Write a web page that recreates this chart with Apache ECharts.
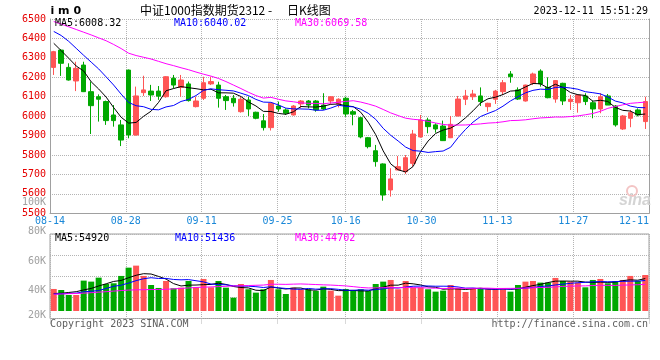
<!DOCTYPE html>
<html><head><meta charset="utf-8">
<script src="https://cdn.jsdelivr.net/npm/echarts@6/dist/echarts.min.js"></script>
<style>html,body{margin:0;padding:0;background:#fff}#c{width:660px;height:360px}</style>
</head><body><div id="c"></div>
<script>
const dates = [
'08-14','08-15','08-16','08-17','08-18','08-21','08-22','08-23','08-24','08-25',
'08-28','08-29','08-30','08-31','09-01','09-04','09-05','09-06','09-07','09-08',
'09-11','09-12','09-13','09-14','09-15','09-18','09-19','09-20','09-21','09-22',
'09-25','09-26','09-27','09-28','10-09','10-10','10-11','10-12','10-13','10-16',
'10-17','10-18','10-19','10-20','10-23','10-24','10-25','10-26','10-27','10-30',
'10-31','11-01','11-02','11-03','11-06','11-07','11-08','11-09','11-10','11-13',
'11-14','11-15','11-16','11-17','11-20','11-21','11-22','11-23','11-24','11-27',
'11-28','11-29','11-30','12-01','12-04','12-05','12-06','12-07','12-08','12-11'];
const opens = [6251,6340,6251,6181,6263,6126,6100,6075,6006,5955, 6237,5903,6121,6129,6129,6100,6195,6148,6166,6049, 6092,6166,6160,6100,6092,6023,6083,6020,5976,5941, 6052,6032,6006,6063,6078,6078,6057,6078,6063,6092, 6023,5992,5889,5822,5754,5620,5723,5714,5757,5893, 5980,5955,5949,5889,6001,6087,6100,6104,6049,6087, 6126,6217,6135,6078,6169,6232,6148,6088,6169,6075, 6069,6104,6069,6037,6104,6052,5934,5989,6032,5972];
const closes = [6332,6272,6186,6246,6126,6054,6087,5977,5977,5877, 5903,6104,6135,6109,6103,6203,6160,6186,6080,6078, 6172,6178,6092,6080,6069,6087,6037,5989,5941,6066, 6037,6015,6052,6078,6057,6032,6037,6100,6087,6011, 6010,5893,5843,5766,5594,5677,5740,5786,5908,5980, 5946,5934,5874,5958,6088,6104,6114,6075,6066,6129, 6172,6203,6088,6160,6217,6166,6095,6183,6078,6087, 6109,6075,6037,6100,6057,5955,6001,6018,6006,6075];
const lows = [6212,6207,6183,6129,6124,5908,5972,5955,5946,5846, 5886,5900,6104,6078,6084,6095,6143,6100,6075,6045, 6083,6160,6044,6032,6049,6018,6001,5984,5926,5926, 6023,6006,6003,6040,6040,6023,6032,6063,6045,5997, 5953,5886,5834,5740,5565,5586,5722,5702,5740,5889, 5912,5915,5872,5887,5999,6057,6083,6052,6023,6063, 6109,6172,6083,6075,6160,6152,6092,6069,6057,6032, 6018,6057,5989,6015,6057,5946,5929,5943,5999,5934];
const highs = [6336,6345,6272,6280,6280,6178,6112,6080,6057,5980, 6240,6152,6208,6161,6155,6206,6212,6212,6178,6100, 6203,6203,6177,6109,6109,6100,6100,6023,6011,6069, 6075,6040,6057,6083,6083,6083,6118,6102,6092,6100, 6032,5997,5893,5852,5757,5732,5795,5800,5929,6006, 5992,5963,5977,6001,6104,6135,6135,6148,6069,6135, 6186,6232,6148,6162,6224,6241,6200,6186,6172,6109, 6110,6118,6080,6118,6114,6057,6006,6032,6040,6100];
const volumes = [37200,35500,27000,27000,51300,49600,56300,45600,46800,59200, 73200,76600,59200,43900,38900,50700,38400,39400,50700,40000, 54100,40000,50700,39400,22500,45600,36700,31000,36700,52400, 36700,28700,39400,36700,36700,33800,41100,34400,25900,37200, 35500,36700,33800,45600,49600,52400,36700,50700,40000,40000, 36700,32700,34400,43900,38400,32100,38900,38900,36700,36700, 37700,32700,43900,49600,50700,47900,47900,55800,50700,49600, 47900,40000,52400,54100,46800,50700,52400,59200,50700,60800];
// moving-average values before enough visible days exist
const ma5Lead = [6375,6337,6298,6258];
const ma10Lead = [6436,6415,6385,6349,6313,6278,6243,6202,6160];
const ma30Lead = [6487,6474,6460,6446,6432,6418,6403,6388,6369,6348,6324,6312,6303,6294,6282,6270,6260,6249,6239,6227,6216,6206,6194,6178,6160,6142,6123,6106,6093];
const vma5Lead = [29600,29900,31300,32600];
const vma10Lead = [28600,29100,29600,30100,32400,33300,34600,38000,41700];
const vma30Lead = [28400,28700,29200,29600,30100,30900,31800,32600,33600,34500,35300,35700,36000,36200,36300,36700,37300,38200,38900,39700,40200,40700,41200,41700,42300,42600,43000,43400,43800];
const tickLabels = ['08-14','08-28','09-11','09-25','10-16','10-30','11-13','11-27','12-11'];
const volLabelVals = [20000,40000,60000,80000,100000];
const volLabelTexts = ['20K','40K','60K','80K','100K'];
const legendMain = ['MA5:6008.32','MA10:6040.02','MA30:6069.58'];
const legendVol = ['MA5:54920','MA10:51436','MA30:44702'];

const UP = '#ff5555', DOWN = '#00a800';
const MONO = 'DejaVu Sans Mono';
const GRIDC = '#b4b4b4', FRAME = '#a0a0a0';
const tickDays = tickLabels.map(l => dates.indexOf(l));

function movingAvg(vals, n, lead) {
  return vals.map((v, i) => {
    if (i < n - 1) return lead[i];
    let s = 0; for (let k = i - n + 1; k <= i; k++) s += vals[k];
    return +(s / n).toFixed(2);
  });
}
const candleData = opens.map((o, i) => [o, closes[i], lows[i], highs[i]]);
const volData = volumes.map((v, i) => ({value: v, itemStyle: {color: closes[i] >= opens[i] ? UP : DOWN}}));
const dotted = {type: 'dotted', color: GRIDC, width: 1};

function lineS(data, color, xi, yi) {
  return {type: 'line', data, xAxisIndex: xi, yAxisIndex: yi, symbol: 'none', silent: true,
    lineStyle: {color, width: 1}, z: 3};
}
function txt(x, y, text, fill, font, align) {
  return {type: 'text', x, y, z: 10, silent: true,
    style: {text, fill, font, align: align || 'left', verticalAlign: 'middle'}};
}

const chart = echarts.init(document.getElementById('c'), null, {renderer: 'canvas'});
chart.setOption({
  animation: false,
  backgroundColor: '#fff',
  grid: [
    {left: 50, top: 19, width: 599, height: 194.3},
    {left: 50, top: 234, width: 599, height: 77},
    {left: 50, top: 234, width: 599, height: 84.5, show: true, borderColor: FRAME, borderWidth: 1},
    {left: 50, top: 202, width: 599, height: 118}
  ],
  xAxis: [
    {type: 'category', gridIndex: 0, data: dates, boundaryGap: true, show: false, position: 'bottom'},
    {type: 'value', gridIndex: 0, min: 0, max: dates.length - 1, position: 'bottom',
      axisLine: {show: true, onZero: false, lineStyle: {color: FRAME}},
      axisTick: {show: false, customValues: tickDays},
      splitLine: {show: true, lineStyle: dotted},
      axisLabel: {customValues: tickDays, formatter: v => tickLabels[tickDays.indexOf(v)],
        color: '#1a88d8', fontFamily: MONO, fontSize: 10, margin: 3,
        alignMinLabel: 'center', alignMaxLabel: 'right'}},
    {type: 'category', gridIndex: 1, data: dates, boundaryGap: true, show: false},
    {type: 'value', gridIndex: 2, min: 0, max: dates.length - 1, position: 'bottom',
      axisLine: {show: false, onZero: false},
      axisTick: {show: true, customValues: tickDays, length: 5, lineStyle: dotted},
      splitLine: {show: true, lineStyle: dotted},
      axisLabel: {show: false}},
    {type: 'value', gridIndex: 3, show: false, min: 0, max: 1}
  ],
  yAxis: [
    {type: 'value', gridIndex: 0, min: 5500, max: 6500, interval: 100,
      axisLine: {show: true, onZero: false, lineStyle: {color: FRAME}},
      axisTick: {show: false}, splitLine: {show: true, lineStyle: dotted},
      axisLabel: {formatter: v => String(v), color: '#e60000', fontFamily: MONO, fontSize: 10, margin: 4, padding: [0, 0, 4, 0]}},
    {type: 'value', gridIndex: 0, position: 'right', min: 0, max: 1,
      axisLine: {show: true, onZero: false, lineStyle: {color: FRAME}},
      axisTick: {show: false}, axisLabel: {show: false}, splitLine: {show: false}},
    {type: 'value', gridIndex: 1, min: 0, max: 130000, show: false, splitLine: {show: false}},
    {type: 'value', gridIndex: 2, min: 0, max: 4, interval: 1,
      axisLine: {show: false}, axisTick: {show: false}, axisLabel: {show: false},
      splitLine: {show: true, lineStyle: dotted}},
    {type: 'value', gridIndex: 3, min: 20000, max: 100000,
      axisLine: {show: false}, axisTick: {show: false}, splitLine: {show: false},
      axisLabel: {customValues: volLabelVals, formatter: v => volLabelTexts[volLabelVals.indexOf(v)],
        color: '#a0a0a0', fontFamily: MONO, fontSize: 10, margin: 4, verticalAlignMinLabel: 'bottom'}}
  ],
  series: [
    {type: 'candlestick', xAxisIndex: 0, yAxisIndex: 0, data: candleData, barWidth: 5, silent: true,
      itemStyle: {color: UP, color0: DOWN, borderColor: UP, borderColor0: DOWN, borderWidth: 1}, z: 2},
    lineS(movingAvg(closes, 5, ma5Lead), '#000000', 0, 0),
    lineS(movingAvg(closes, 10, ma10Lead), '#0000ff', 0, 0),
    lineS(movingAvg(closes, 30, ma30Lead), '#ff00ff', 0, 0),
    {type: 'bar', xAxisIndex: 2, yAxisIndex: 2, data: volData, barWidth: 6, silent: true, z: 2},
    lineS(movingAvg(volumes, 5, vma5Lead), '#000000', 2, 2),
    lineS(movingAvg(volumes, 10, vma10Lead), '#0000ff', 2, 2),
    lineS(movingAvg(volumes, 30, vma30Lead), '#ff00ff', 2, 2)
  ],
  graphic: [
    txt(50.5, 11.5, 'i m 0', '#000', 'bold 11px "DejaVu Sans"'),
    txt(140, 10, '中证1000指数期货2312 -', '#000', '12px "Noto Sans CJK SC"'),
    txt(287, 10, '日K线图', '#000', '12px "Noto Sans CJK SC"'),
    txt(648, 11.5, '2023-12-11 15:51:29', '#000', '10px "DejaVu Sans Mono"', 'right'),
    txt(55, 23.5, legendMain[0], '#000', '10px "DejaVu Sans Mono"'),
    txt(174, 23.5, legendMain[1], '#0000ff', '10px "DejaVu Sans Mono"'),
    txt(295, 23.5, legendMain[2], '#ff00ff', '10px "DejaVu Sans Mono"'),
    txt(55, 238.5, legendVol[0], '#000', '10px "DejaVu Sans Mono"'),
    txt(175, 238.5, legendVol[1], '#0000ff', '10px "DejaVu Sans Mono"'),
    txt(295, 238.5, legendVol[2], '#ff00ff', '10px "DejaVu Sans Mono"'),
    txt(50, 324, 'Copyright 2023 SINA.COM', '#606060', '10px "DejaVu Sans Mono"'),
    txt(648, 324, 'http://finance.sina.com.cn', '#606060', '10px "DejaVu Sans Mono"', 'right'),
    {type: 'circle', shape: {cx: 632, cy: 191, r: 5}, z: 1, silent: true,
      style: {fill: 'none', stroke: '#f3c4c4', lineWidth: 2}},
    txt(635, 201, 'sina', '#d4d4d4', 'italic bold 16px "Liberation Sans"', 'center')
  ]
});
</script></body></html>
